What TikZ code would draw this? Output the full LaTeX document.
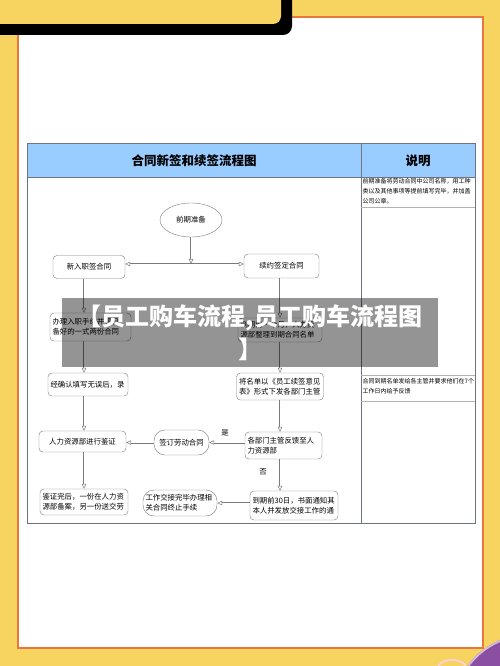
\documentclass[tikz,border=0pt]{standalone}
\usepackage{fontspec}
\newfontfamily\cjk{Noto Sans CJK SC}
\usetikzlibrary{shapes.geometric, arrows.meta, calc}

\definecolor{bgyellow}{HTML}{F7D35F}
\definecolor{pageorange}{HTML}{E8773D}
\definecolor{headblue}{HTML}{99CCFF}
\definecolor{rulegray}{HTML}{6E7480}
\definecolor{boxgray}{HTML}{7A7A7A}
\definecolor{tipurple}{HTML}{8A4FA0}

\tikzset{
  box/.style={draw=boxgray, fill=white, rounded corners=4pt, inner sep=2.5pt,
    font=\cjk\fontsize{7.4}{10}\selectfont, align=left},
  roundbox/.style={box, rounded corners=11pt},
  flow/.style={draw=boxgray, double=white, double distance=1pt, line width=0.5pt,
    -{Triangle[open, length=5pt, width=4.5pt]}},
  note/.style={font=\cjk\fontsize{6}{10}\selectfont, align=left, anchor=north west,
    inner sep=1pt},
  tag/.style={font=\cjk\fontsize{7.4}{9}\selectfont, inner sep=0pt},
  headline/.style={font=\cjk\bfseries\fontsize{12.5}{14}\selectfont},
}

\begin{document}
\begin{tikzpicture}[x=1pt, y=-1pt]
    \useasboundingbox (0,0) rectangle (500,666);
    \clip (0,0) rectangle (500,666);

    \fill[bgyellow] (0,0) rectangle (500,666);
    \fill[tipurple] (530,712) circle (78);
    \draw[white, opacity=.6, line width=2pt] (530,712) circle (77);
    \draw[pink!70!white, line width=2pt] (452,668) ellipse (14 and 8);

    \draw[pageorange, line width=1.5pt, fill=white] (18,17) rectangle (483,648);
    \fill[black, rounded corners=9pt] (-20,-20) rectangle (292,35);
    \fill[bgyellow, rounded corners=8pt] (-20,-20) rectangle (281,24);

    \fill[headblue] (27,143) rectangle (475,177);
    \draw[rulegray, line width=0.7pt] (27,143) rectangle (475,523);
    \draw[rulegray] (27,177) -- (475,177);
    \draw[rulegray] (361,143) -- (361,523);
    \draw[gray!60] (361,207) -- (475,207);
    \draw[gray!60] (361,375) -- (475,375);
    \draw[gray!60] (361,401) -- (475,401);

    \node[headline] (title) at (194,161) {合同新签和续签流程图};
    \node[headline] (remark) at (418,161) {说明};

    \node[note] (prepnote) at (361.5,177.5) {前期准备将劳动合同中公司名称，用工种\\类以及其他事项等提前填写完毕，并加盖\\公司公章。};
    \node[note] (duenote) at (361.5,377) {合同到期名单发给各主管并要求他们在7个\\工作日内给予反馈};

    \node[ellipse, draw=boxgray, fill=white, minimum width=62, minimum height=34,
      font=\cjk\fontsize{7.4}{9}\selectfont] (prep) at (191,220) {前期准备};
    \node[box, minimum width=72, minimum height=23, align=center] (newsign) at (89,267) {新入职签合同};
    \node[box, minimum width=75, minimum height=24, align=center] (renew) at (281.5,266) {续约签定合同};
    \node[box, text width=76, minimum height=28] (entry) at (90.5,327) {办理入职手续并将已\\备好的一式两份合同};
    \node[box, text width=79, minimum height=24] (duelist) at (280,330) {到期前一个月，人力资\\源部整理到期合同名单};
    \node[box, text width=75, minimum height=23] (check) at (88,384.5) {经确认填写无误后，录};
    \node[box, text width=82, minimum height=27] (notice) at (280,386.5) {将名单以《员工续签意见\\表》形式下发各部门主管};
    \node[box, minimum width=87, minimum height=21, align=center] (verify) at (82.5,441.5) {人力资源部进行鉴证};
    \node[roundbox, minimum width=55, minimum height=25, align=center] (labour) at (181.5,442.5) {签订劳动合同};
    \node[box, text width=72, minimum height=27] (reply) at (283.5,445.5) {各部门主管反馈至人\\力资源部};
    \node[box, text width=83, minimum height=26] (archive) at (84,502) {鉴证完后，一份在人力资\\源部备案，另一份送交劳};
    \node[roundbox, text width=69, minimum height=26] (handover) at (180,503) {工作交接完毕办理相\\关合同终止手续};
    \node[box, text width=83, minimum height=29] (inform) at (294,505.5) {到期前30日，书面通知其\\本人并发放交接工作的通};

    \coordinate (split) at (191,264);
    \coordinate (lcol) at (84,0);
    \coordinate (rcol) at (280,0);

    \draw[flow] (prep) -- (split);
    \draw[flow] (split) -- (split -| newsign.east);
    \draw[flow] (split) -- (split -| renew.west);
    \draw[flow] (newsign.south -| lcol) -- (entry.north -| lcol);
    \draw[flow] (entry.south -| lcol) -- (check.north -| lcol);
    \draw[flow] (check.south -| lcol) -- (verify.north -| lcol);
    \draw[flow] (verify.south -| lcol) -- (archive.north -| lcol);
    \draw[flow] (renew.south -| rcol) -- (duelist.north -| rcol);
    \draw[flow] (duelist.south -| rcol) -- (notice.north -| rcol);
    \draw[flow] (notice.south -| rcol) -- (reply.north -| rcol);
    \draw[flow] (reply.south -| rcol) -- (inform.north -| rcol);
    \draw[flow] (reply.west |- labour) -- (labour.east);
    \draw[flow] (labour.west) -- (labour.west -| verify.east);
    \draw[flow] (inform.west |- handover) -- (handover.east);

    \node[tag] (yes) at (225,433) {是};
    \node[tag] (no) at (263,472) {否};

    \fill[black, opacity=0.42] (62,298) rectangle (438,367);
    \node[font=\cjk\bfseries\fontsize{24}{33}\selectfont, white, align=center] (mark) at (250,333) {【员工购车流程,员工购车流程图\\】};
\end{tikzpicture}
\end{document}
